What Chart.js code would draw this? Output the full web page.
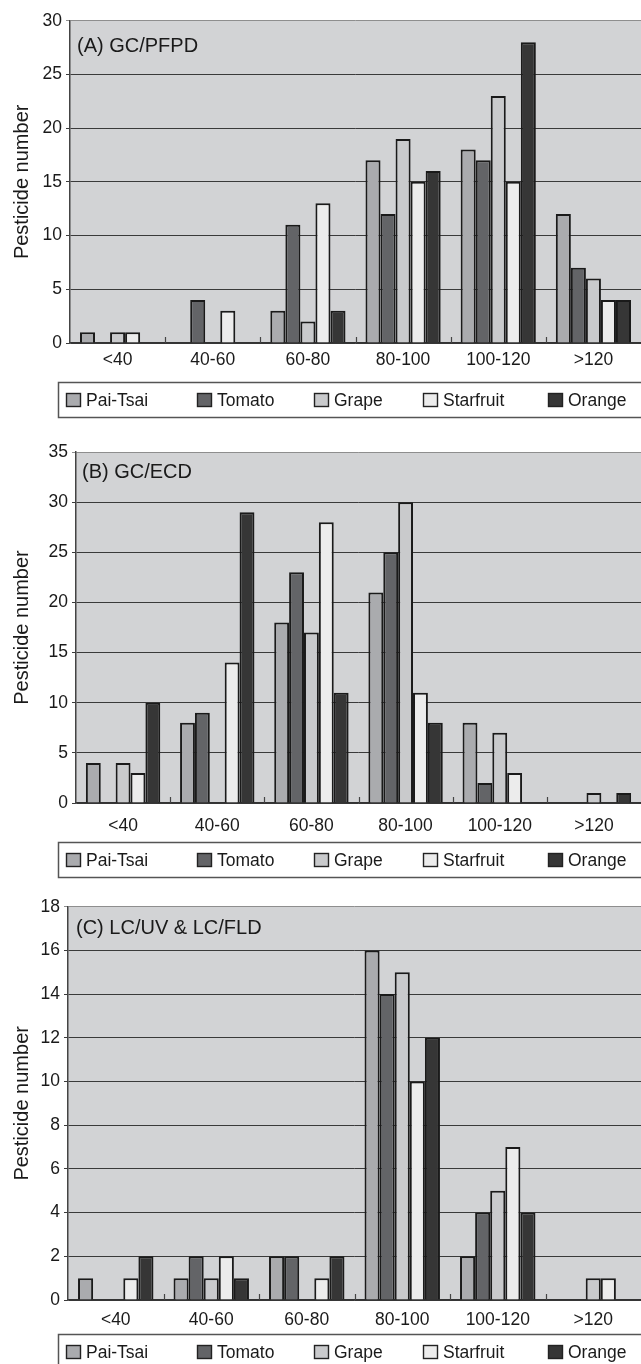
<!DOCTYPE html>
<html>
<head>
<meta charset="utf-8">
<script src="https://cdn.jsdelivr.net/npm/chart.js@4.4.0/dist/chart.umd.min.js"></script>
<style>
  body { margin: 0; background: #fff; }
  #wrap { position: relative; width: 641px; height: 1364px; overflow: hidden; }
  canvas { position: absolute; left: 0; }
</style>
</head>
<body>
<div id="wrap">
  <canvas id="chartA" width="641" height="420" style="top:0px"></canvas>
  <canvas id="chartB" width="641" height="450" style="top:430px"></canvas>
  <canvas id="chartC" width="641" height="479" style="top:885px"></canvas>
</div>
<script>
// retention-time bins (x categories) and the five commodities
var categories = ['<40', '40-60', '60-80', '80-100', '100-120', '>120'];
var seriesNames = ['Pai-Tsai', 'Tomato', 'Grape', 'Starfruit', 'Orange'];

// (A) GC/PFPD
var paiA    = [1, 0, 3, 17, 18, 12];
var tomatoA = [0, 4, 11, 12, 17, 7];
var grapeA  = [1, 0, 2, 19, 23, 6];
var starA   = [1, 3, 13, 15, 15, 4];
var orangeA = [0, 0, 3, 16, 28, 4];

// (B) GC/ECD
var paiB    = [4, 8, 18, 21, 8, 0];
var tomatoB = [0, 9, 23, 25, 2, 0];
var grapeB  = [4, 0, 17, 30, 7, 1];
var starB   = [3, 14, 28, 11, 3, 0];
var orangeB = [10, 29, 11, 8, 0, 1];

// (C) LC/UV & LC/FLD
var paiC    = [1, 1, 2, 16, 2, 0];
var tomatoC = [0, 2, 2, 14, 4, 0];
var grapeC  = [0, 1, 0, 15, 5, 1];
var starC   = [1, 2, 1, 10, 7, 1];
var orangeC = [2, 1, 2, 12, 4, 0];

// y axis ticks: [max, step]
var yTicksA = [30, 5];
var yTicksB = [35, 5];
var yTicksC = [18, 2];

var barColors = ['#aaabae', '#636467', '#c9cacc', '#ececec', '#363636'];
var legendX = [66, 197, 314, 423, 548];
var FONT = '"Liberation Sans", Arial, sans-serif';

Chart.defaults.font.family = FONT;
Chart.defaults.color = '#1a1a1a';

var plotBg = {
  id: 'plotBg',
  beforeDraw: function(chart) {
    var a = chart.chartArea, ctx = chart.ctx;
    ctx.save();
    ctx.fillStyle = '#d2d3d5';
    ctx.fillRect(a.left, a.top, a.right - a.left, a.bottom - a.top);
    ctx.restore();
  }
};

var panelBits = {
  id: 'panelBits',
  afterDraw: function(chart, args, opts) {
    var ctx = chart.ctx, a = chart.chartArea, xs = chart.scales.x;
    ctx.save();
    // little ticks standing on the x axis between the bins
    ctx.strokeStyle = '#444';
    ctx.lineWidth = 1.2;
    for (var i = 0; i < chart.data.labels.length - 1; i++) {
      var x = Math.round((xs.getPixelForValue(i) + xs.getPixelForValue(i + 1)) / 2) + 0.5;
      ctx.beginPath();
      ctx.moveTo(x, a.bottom);
      ctx.lineTo(x, a.bottom - 6);
      ctx.stroke();
    }
    // panel name
    ctx.fillStyle = '#1a1a1a';
    ctx.font = '20px ' + FONT;
    ctx.textBaseline = 'middle';
    ctx.fillText(opts.text, a.left + opts.dx, a.top + opts.dy);
    // legend in a box
    ctx.strokeStyle = '#555';
    ctx.lineWidth = 1.5;
    ctx.strokeRect(58.5, opts.legendTop + 0.5, 700, 35);
    ctx.font = '17.5px ' + FONT;
    chart.data.datasets.forEach(function(ds, k) {
      var x = legendX[k], y = opts.legendTop + 18;
      ctx.fillStyle = ds.backgroundColor;
      ctx.fillRect(x, y - 7, 15, 14);
      ctx.strokeStyle = '#222';
      ctx.lineWidth = 1.4;
      ctx.strokeRect(x + 0.5, y - 6.5, 14, 13);
      ctx.fillStyle = '#1a1a1a';
      ctx.fillText(ds.label, x + 20, y + 1);
    });
    ctx.restore();
  }
};

function makeChart(id, series, yTicks, p) {
  var yMax = yTicks[0];
  var datasets = series.map(function(vals, k) {
    return {
      label: seriesNames[k],
      data: vals,
      backgroundColor: barColors[k],
      borderColor: '#1a1a1a',
      borderWidth: 2,
      categoryPercentage: 0.79,
      barPercentage: 1.0
    };
  });
  return new Chart(document.getElementById(id), {
    type: 'bar',
    data: { labels: categories, datasets: datasets },
    plugins: [plotBg, panelBits],
    options: {
      responsive: false,
      animation: false,
      layout: { padding: { top: p.top, left: 0, right: 0, bottom: 0 } },
      plugins: {
        legend: { display: false },
        tooltip: { enabled: false },
        panelBits: { text: p.text, dx: p.dx, dy: p.dy, legendTop: p.legendTop }
      },
      scales: {
        x: {
          grid: { display: false, drawTicks: false },
          border: { display: true, color: '#333', width: 1.5 },
          ticks: { font: { size: 17.5 }, padding: p.xPad, color: '#1a1a1a' },
          afterFit: function(s) { s.height = p.xHeight; }
        },
        y: {
          min: 0,
          max: yMax,
          ticks: { stepSize: yTicks[1], font: { size: 17.5 }, padding: 4, color: '#1a1a1a' },
          grid: {
            tickLength: 4,
            lineWidth: 1,
            color: function(c) { return (c.tick && c.tick.value === yMax) ? '#8e8e8e' : '#3a3a3a'; }
          },
          border: { color: '#444', width: 1.5 },
          title: {
            display: true,
            text: 'Pesticide number',
            font: { size: 20 },
            padding: { top: 10, bottom: 0 },
            color: '#1a1a1a'
          },
          afterFit: function(s) { s.width = p.yWidth; }
        }
      }
    }
  });
}

makeChart('chartA', [paiA, tomatoA, grapeA, starA, orangeA], yTicksA,
  { top: 20.7, xHeight: 77, xPad: 7, yWidth: 70, text: '(A) GC/PFPD', dx: 7, dy: 26, legendTop: 382 });
makeChart('chartB', [paiB, tomatoB, grapeB, starB, orangeB], yTicksB,
  { top: 22, xHeight: 77, xPad: 13, yWidth: 76, text: '(B) GC/ECD', dx: 6, dy: 20, legendTop: 412 });
makeChart('chartC', [paiC, tomatoC, grapeC, starC, orangeC], yTicksC,
  { top: 21.7, xHeight: 64, xPad: 10, yWidth: 68, text: '(C) LC/UV & LC/FLD', dx: 8, dy: 22, legendTop: 449 });
</script>
</body>
</html>
